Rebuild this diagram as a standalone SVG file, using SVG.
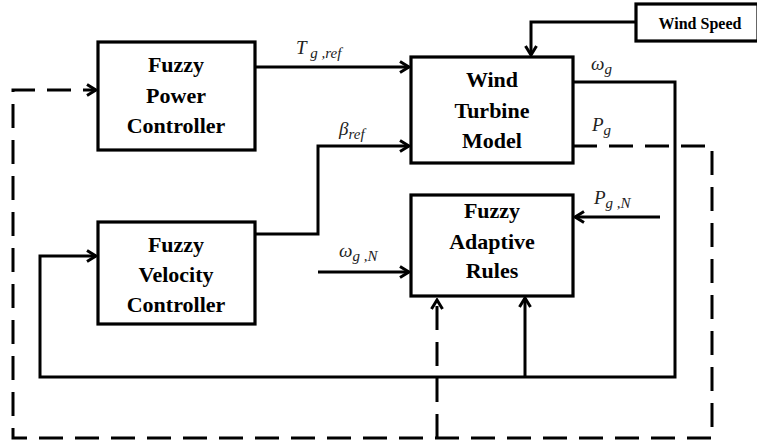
<svg xmlns="http://www.w3.org/2000/svg" width="757" height="445" viewBox="0 0 757 445">
<style>
.box{fill:#fff;stroke:#000;stroke-width:3.2}
.t{font-family:"Liberation Serif","Times New Roman",serif;font-weight:bold;font-size:22px;text-anchor:middle;fill:#000}
.ln{fill:none;stroke:#000;stroke-width:3}
.dash{fill:none;stroke:#000;stroke-width:3;stroke-dasharray:24 12}
.lbl{font-family:"Liberation Serif","Times New Roman",serif;font-style:italic;fill:#222}
</style>
<defs>
<marker id="arr" viewBox="0 0 14 14" markerWidth="14" markerHeight="14" refX="12" refY="7" orient="auto" markerUnits="userSpaceOnUse">
<path d="M3,1.5 L12,7 L3,12.5" fill="none" stroke="#000" stroke-width="3"/>
</marker>
</defs>
<rect width="757" height="445" fill="#fff"/>
<g id="connectors">
<path class="ln" d="M255,67 H409" marker-end="url(#arr)"/>
<path class="ln" d="M255,234 H318 V146 H409" marker-end="url(#arr)"/>
<path class="ln" d="M318,272 H409" marker-end="url(#arr)"/>
<path class="ln" d="M636,22 H531 V55" marker-end="url(#arr)"/>
<path class="ln" d="M573,82 H675 V377 H40 V256 H96" marker-end="url(#arr)"/>
<path class="ln" d="M525,377 V298" marker-end="url(#arr)"/>
<path class="ln" d="M660,217 H575" marker-end="url(#arr)"/>
<path class="dash" d="M573,146 H712 V438 H13 V90 H96" marker-end="url(#arr)"/>
<path class="dash" d="M437,438 V300" marker-end="url(#arr)"/>
</g>
<g id="fpc">
<rect class="box" x="98" y="42" width="157" height="108"/>
<text class="t" x="176" y="72">Fuzzy</text>
<text class="t" x="176" y="103">Power</text>
<text class="t" x="176" y="133">Controller</text>
</g>
<g id="fvc">
<rect class="box" x="98" y="222" width="157" height="102"/>
<text class="t" x="176" y="252">Fuzzy</text>
<text class="t" x="176" y="282">Velocity</text>
<text class="t" x="176" y="312">Controller</text>
</g>
<g id="wtm">
<rect class="box" x="411" y="57" width="162" height="106"/>
<text class="t" x="492" y="87">Wind</text>
<text class="t" x="492" y="118">Turbine</text>
<text class="t" x="492" y="148">Model</text>
</g>
<g id="far">
<rect class="box" x="411" y="195" width="162" height="101"/>
<text class="t" x="492" y="218">Fuzzy</text>
<text class="t" x="492" y="249">Adaptive</text>
<text class="t" x="492" y="278">Rules</text>
</g>
<g id="ws">
<rect class="box" x="636" y="4" width="122" height="37"/>
<text class="t" x="700" y="29" style="font-size:16px">Wind Speed</text>
</g>
<g id="labels">
<text class="lbl" x="296" y="54" font-size="19">T<tspan font-size="15" dy="4"> g ,ref</tspan></text>
<text class="lbl" x="339" y="135" font-size="19">β<tspan font-size="15" dy="4">ref</tspan></text>
<text class="lbl" x="339" y="257" font-size="19">ω<tspan font-size="15" dy="4">g ,N</tspan></text>
<text class="lbl" x="591" y="70" font-size="19">ω<tspan font-size="15" dy="4">g</tspan></text>
<text class="lbl" x="592" y="131" font-size="19">P<tspan font-size="15" dy="4">g</tspan></text>
<text class="lbl" x="594" y="204" font-size="19">P<tspan font-size="15" dy="4">g ,N</tspan></text>
</g>
</svg>
